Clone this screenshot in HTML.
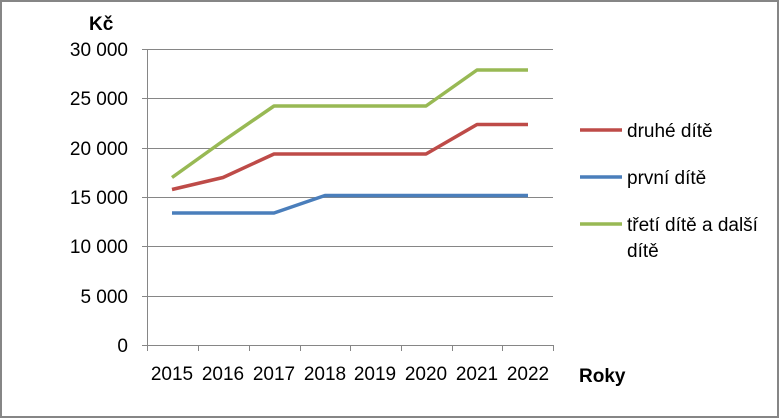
<!DOCTYPE html>
<html><head><meta charset="utf-8"><style>
body{margin:0;background:#fff}
svg{display:block}
text{font-family:"Liberation Sans",sans-serif;font-size:19px;fill:#000}
</style></head><body>
<svg width="779" height="418" viewBox="0 0 779 418">
<rect x="1" y="1" width="777" height="416" fill="#fff" stroke="#868686" stroke-width="2"/>
<g stroke="#868686" stroke-width="1">
<line x1="142" y1="49.5" x2="553" y2="49.5"/>
<line x1="142" y1="98.5" x2="553" y2="98.5"/>
<line x1="142" y1="148.5" x2="553" y2="148.5"/>
<line x1="142" y1="197.5" x2="553" y2="197.5"/>
<line x1="142" y1="246.5" x2="553" y2="246.5"/>
<line x1="142" y1="296.5" x2="553" y2="296.5"/>
<line x1="142" y1="345.5" x2="553" y2="345.5"/>
<line x1="147.5" y1="49" x2="147.5" y2="345"/>
<line x1="147.5" y1="345" x2="147.5" y2="351"/>
<line x1="198.5" y1="345" x2="198.5" y2="351"/>
<line x1="249.5" y1="345" x2="249.5" y2="351"/>
<line x1="300.5" y1="345" x2="300.5" y2="351"/>
<line x1="350.5" y1="345" x2="350.5" y2="351"/>
<line x1="401.5" y1="345" x2="401.5" y2="351"/>
<line x1="452.5" y1="345" x2="452.5" y2="351"/>
<line x1="502.5" y1="345" x2="502.5" y2="351"/>
<line x1="553.5" y1="345" x2="553.5" y2="351"/>
</g>
<g text-anchor="end">
<text x="128" y="56">30 000</text>
<text x="128" y="105">25 000</text>
<text x="128" y="155">20 000</text>
<text x="128" y="204">15 000</text>
<text x="128" y="253">10 000</text>
<text x="128" y="303">5 000</text>
<text x="128" y="352">0</text>
</g>
<g text-anchor="middle">
<text x="172" y="380">2015</text><text x="223" y="380">2016</text><text x="274" y="380">2017</text><text x="325" y="380">2018</text>
<text x="375" y="380">2019</text><text x="426" y="380">2020</text><text x="477" y="380">2021</text><text x="528" y="380">2022</text>
</g>
<text x="89" y="30" font-weight="bold" font-size="18">Kč</text>
<text x="579" y="382" font-weight="bold" font-size="18">Roky</text>
<g fill="none" stroke-width="3.5" stroke-linejoin="round">
<polyline stroke="#4a7ebb" points="172,213 223,213 274,213 325,195.5 375,195.5 426,195.5 477,195.5 528,195.5"/>
<polyline stroke="#be4b48" points="172,189.5 223,177.5 274,154 325,154 375,154 426,154 477,124.5 528,124.5"/>
<polyline stroke="#98b954" points="172,177.5 223,141 274,106 325,106 375,106 426,106 477,70 528,70"/>
</g>
<line x1="580" y1="130" x2="622" y2="130" stroke="#be4b48" stroke-width="3.5"/>
<text x="627" y="137">druhé dítě</text>
<line x1="580" y1="177" x2="622" y2="177" stroke="#4a7ebb" stroke-width="3.5"/>
<text x="627" y="184">první dítě</text>
<line x1="580" y1="224" x2="622" y2="224" stroke="#98b954" stroke-width="3.5"/>
<text x="627" y="231">třetí dítě a další</text>
<text x="627" y="257">dítě</text>
</svg>
</body></html>
